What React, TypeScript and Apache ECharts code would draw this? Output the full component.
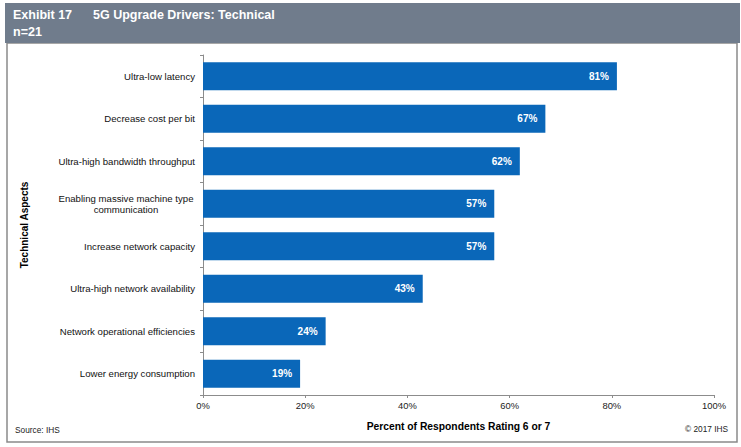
import React, { useEffect, useRef } from "react";
import * as echarts from "echarts";

const categories = [
  "Ultra-low latency",
  "Decrease cost per bit",
  "Ultra-high bandwidth throughput",
  "Enabling massive machine type\ncommunication",
  "Increase network capacity",
  "Ultra-high network availability",
  "Network operational efficiencies",
  "Lower energy consumption",
];
const values = [81, 67, 62, 57, 57, 43, 24, 19];
const xTicks = [0, 20, 40, 60, 80, 100];

const FONT = '"Liberation Sans", Arial, sans-serif';

export default function App() {
  const ref = useRef<HTMLDivElement>(null);
  useEffect(() => {
    if (!ref.current) return;
    const chart = echarts.init(ref.current, null, { renderer: "svg" });
    chart.setOption({
      animation: false,
      backgroundColor: "#ffffff",
      textStyle: { fontFamily: FONT },
      grid: { left: 203, right: 27, top: 55, bottom: 52, containLabel: false },
      xAxis: {
        type: "value",
        min: xTicks[0],
        max: xTicks[xTicks.length - 1],
        interval: 20,
        name: "Percent of Respondents Rating 6 or 7",
        nameLocation: "middle",
        nameGap: 26,
        nameTextStyle: { fontFamily: FONT, fontSize: 10.3, fontWeight: "bold", color: "#000" },
        axisLine: { show: true, lineStyle: { color: "#8c8c8c", width: 1 } },
        axisTick: { show: true, length: 3, lineStyle: { color: "#8c8c8c" } },
        axisLabel: {
          fontFamily: FONT,
          fontSize: 9.4,
          color: "#222",
          margin: 6,
          formatter: (v: number) => v + "%",
        },
        splitLine: { show: false },
      },
      yAxis: {
        type: "category",
        data: categories,
        inverse: true,
        name: "Technical Aspects",
        nameLocation: "middle",
        nameRotate: 90,
        nameGap: 174,
        nameTextStyle: { fontFamily: FONT, fontSize: 10, fontWeight: "bold", color: "#000" },
        axisLine: { show: true, lineStyle: { color: "#8c8c8c", width: 1 } },
        axisTick: { show: true, length: 3, lineStyle: { color: "#8c8c8c" } },
        axisLabel: {
          fontFamily: FONT,
          fontSize: 9.6,
          color: "#111",
          margin: 8,
          lineHeight: 11,
          formatter: (v: string) =>
            v.indexOf("\n") >= 0
              ? v.split("\n").map((l) => "{c|" + l + "}").join("\n")
              : v,
          rich: {
            c: { width: 138, align: "center", fontFamily: FONT, fontSize: 9.6, color: "#111", lineHeight: 11 },
          },
        },
      },
      series: [
        {
          type: "bar",
          data: values,
          barWidth: 28,
          itemStyle: { color: "#0a67b9" },
          label: {
            show: true,
            position: "insideRight",
            distance: 8,
            color: "#ffffff",
            fontFamily: FONT,
            fontSize: 10,
            fontWeight: "bold",
            formatter: (p: any) => p.value + "%",
          },
        },
      ],
      graphic: [
        {
          type: "rect",
          z: -1,
          shape: { x: 7, y: 43, width: 730, height: 399 },
          style: { fill: "none", stroke: "#8a8a8a", lineWidth: 1.5 },
        },
        {
          type: "rect",
          shape: { x: 5, y: 3, width: 735, height: 40 },
          style: { fill: "#707c8c" },
        },
        {
          type: "text",
          x: 13,
          y: 15,
          style: { text: "Exhibit 17", fill: "#fff", font: "bold 12.5px " + FONT, textVerticalAlign: "middle" },
        },
        {
          type: "text",
          x: 93,
          y: 15,
          style: { text: "5G Upgrade Drivers: Technical", fill: "#fff", font: "bold 12.5px " + FONT, textVerticalAlign: "middle" },
        },
        {
          type: "text",
          x: 13,
          y: 32,
          style: { text: "n=21", fill: "#fff", font: "bold 12.5px " + FONT, textVerticalAlign: "middle" },
        },
        {
          type: "text",
          x: 15,
          y: 430,
          style: { text: "Source: IHS", fill: "#222", font: "8.3px " + FONT, textVerticalAlign: "middle" },
        },
        {
          type: "text",
          x: 728,
          y: 429,
          style: { text: "© 2017 IHS", fill: "#222", font: "8.3px " + FONT, textAlign: "right", textVerticalAlign: "middle" },
        },
      ],
    });
    return () => chart.dispose();
  }, []);
  return (
    <div
      ref={ref}
      style={{ position: "fixed", left: 0, top: 0, width: 741, height: 447 }}
    />
  );
}
